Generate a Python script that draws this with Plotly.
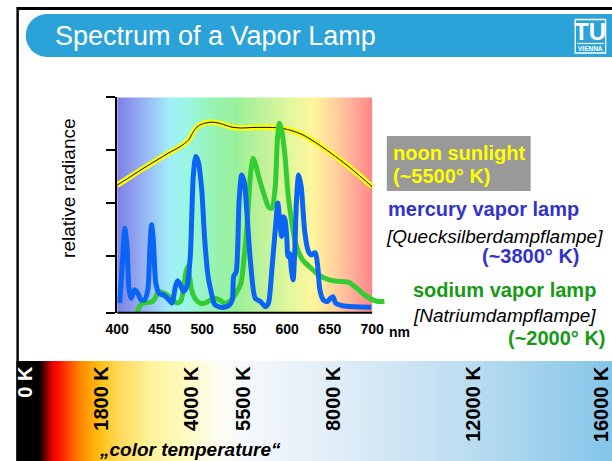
import numpy as np
import plotly.graph_objects as go

W, H = 612, 461
FONT = "Liberation Sans, Arial, sans-serif"

def fx(px):
    return px / W

def fy(py):
    return 1 - py / H

# ---------------- data ----------------
x_ticks = [400, 450, 500, 550, 600, 650, 700]
x_ticktext = ["400", "450", "500", "550", "600", "650", "700"]

sun_nm = [400, 414.7, 430, 445.5, 460.8, 474.3, 483.9, 489.7, 495.4, 503.1, 512.7, 522.3,
          533.8, 545.4, 560.8, 580, 591.5, 603.1, 618.5, 637.7, 657, 676.2, 700]
sun_val = [2.34, 2.49, 2.65, 2.80, 2.95, 3.07, 3.19, 3.35, 3.46, 3.51, 3.53, 3.50,
           3.44, 3.42, 3.43, 3.43, 3.42, 3.38, 3.29, 3.10, 2.88, 2.64, 2.31]

hg_nm = [403, 406, 409, 411.5, 414, 416.5, 420.5, 424.5, 428, 432, 436, 438.5, 440.5, 442.5,
         445.5, 449.5, 455, 461, 464.5, 468.5, 471, 474.5, 478, 482, 486, 489.5, 492.5, 495.5,
         499.5, 503, 507, 511, 514.5, 520, 526, 532, 535.5, 537, 540, 543.5, 546.5, 549.5,
         552.5, 557, 562.5, 568.5, 574.5, 578, 582, 586, 589, 591.5, 593.5, 595.5, 597.5,
         599.5, 601, 603, 605, 607, 609, 611, 613.5, 616.5, 620.5, 624.5, 628, 633, 636,
         638.5, 642.5, 647.5, 651, 654, 657, 665, 680, 699]
hg_val = [0.11, 0.86, 1.52, 1.18, 0.36, 0.20, 0.36, 0.29, 0.17, 0.17, 0.36, 1.18, 1.59, 1.30,
          0.48, 0.29, 0.26, 0.17, 0.11, 0.42, 0.53, 0.45, 0.33, 0.42, 0.99, 2.50, 2.88, 2.78,
          2.25, 1.30, 0.61, 0.29, 0.09, 0.04, 0.03, 0.07, 0.17, 0.61, 0.70, 2.06, 2.53, 2.40,
          1.85, 0.86, 0.20, 0.14, 0.04, 0.11, 0.74, 1.49, 2.00, 1.62, 1.37, 1.74, 1.68,
          1.37, 0.99, 1.05, 0.74, 0.55, 1.11, 2.06, 2.53, 2.31, 1.49, 1.11, 1.02, 1.06, 0.80,
          0.36, 0.17, 0.14, 0.20, 0.23, 0.11, 0.06, 0.04, 0.03]

na_nm = [424, 426, 430, 436, 441.5, 445.5, 448.5, 453, 459, 464.5, 470.5, 474.5, 478, 481,
         483, 487.5, 491.5, 497.5, 503, 509, 514.5, 520.5, 526, 532, 539.5, 545.5, 549.5,
         553, 557, 560, 562.5, 566.5, 572.5, 578, 582, 586, 588.5, 591, 593.5, 597.5, 601,
         605, 609, 612.5, 618.5, 626, 637.5, 649.5, 661, 672.5, 682, 691.5, 699.5, 707, 714.5]
na_val = [-0.07, 0.04, 0.11, 0.12, 0.14, 0.23, 0.33, 0.31, 0.26, 0.18, 0.11, 0.14, 0.36, 0.70,
          0.80, 0.36, 0.20, 0.11, 0.11, 0.16, 0.20, 0.17, 0.11, 0.14, 0.29, 0.48, 0.99,
          1.62, 2.56, 2.85, 2.75, 2.50, 2.18, 1.93, 1.90, 2.31, 3.19, 3.51, 3.38, 2.88, 2.18,
          1.68, 1.30, 1.11, 0.92, 0.80, 0.64, 0.55, 0.52, 0.50, 0.39, 0.26, 0.18, 0.14, 0.14]

# rainbow backdrop (wavelength -> pastel colour)
rainbow_nm = [400, 430, 460, 480, 510, 540, 570, 600, 630, 655, 680, 700]
rainbow_col = ["#7f80e6", "#97b2f4", "#a2ecfa", "#9af6e6", "#98f4b4", "#9af09a",
               "#bff29a", "#e0f79c", "#fff69c", "#ffd39c", "#ffa898", "#ff8686"]

# colour-temperature strip
temp_labels = ["0 K", "1800 K", "4000 K", "5500 K", "8000 K", "12000 K", "16000 K"]
temp_pos = [13, 90, 182, 235, 327, 470, 601]
strip_pos = [5, 27, 40, 47, 70, 88, 105, 140, 175, 212, 240, 330, 470, 612]
strip_col = ["#000000", "#000000", "#e60000", "#ff1500", "#ff8a00", "#ffbe10", "#ffd650",
             "#fff29a", "#fffbc0", "#fcfdf4", "#f5f8fc", "#e0edf7", "#badcf0", "#84c5e8"]

# ---------------- figure ----------------
fig = go.Figure()

lam = np.arange(400, 701, 1.0)
rb_scale = [[(n - 400) / 300, c] for n, c in zip(rainbow_nm, rainbow_col)]
fig.add_trace(go.Heatmap(x=lam, y=[-0.1, 4.05], z=[lam, lam], colorscale=rb_scale,
                         zmin=400, zmax=700, zsmooth="best", showscale=False,
                         hoverinfo="skip", xaxis="x", yaxis="y"))

fig.add_trace(go.Scatter(x=sun_nm, y=sun_val, mode="lines",
                         line=dict(color="#ffff00", width=5.5, shape="spline", smoothing=0.8),
                         hoverinfo="skip", xaxis="x", yaxis="y"))
fig.add_trace(go.Scatter(x=sun_nm, y=sun_val, mode="lines",
                         line=dict(color="#000000", width=1, shape="spline", smoothing=0.8),
                         hoverinfo="skip", xaxis="x", yaxis="y"))
fig.add_trace(go.Scatter(x=na_nm, y=na_val, mode="lines",
                         line=dict(color="#33cc33", width=5, shape="spline", smoothing=0.7),
                         hoverinfo="skip", xaxis="x", yaxis="y"))
fig.add_trace(go.Scatter(x=hg_nm, y=hg_val, mode="lines",
                         line=dict(color="#0a64f5", width=5, shape="spline", smoothing=0.7),
                         hoverinfo="skip", xaxis="x", yaxis="y"))

sp = np.arange(5, 613, 1.0)
st_scale = [[(p - 5) / (612 - 5), c] for p, c in zip(strip_pos, strip_col)]
fig.add_trace(go.Heatmap(x=sp, y=[0, 1], z=[sp, sp], colorscale=st_scale, zmin=5, zmax=612,
                         zsmooth="best", showscale=False, hoverinfo="skip",
                         xaxis="x2", yaxis="y2"))

y_bottom = -0.072
fig.update_layout(
    width=W, height=H, margin=dict(l=0, r=0, t=0, b=0),
    paper_bgcolor="white", plot_bgcolor="white", showlegend=False,
    font=dict(family=FONT, color="black"),
    xaxis=dict(domain=[fx(107.3), fx(381.2)], range=[400, 716], tickvals=x_ticks,
               ticktext=x_ticktext, showline=False, showgrid=False, zeroline=False,
               ticks="", ticklabelstandoff=6,
               tickfont=dict(family=FONT, size=14, color="black", weight="bold")),
    yaxis=dict(domain=[fy(312.7), fy(97.3)], range=[y_bottom, 4.0],
               tickvals=[y_bottom, 1, 2, 3, 4], showticklabels=False, ticks="outside",
               ticklen=9, tickwidth=1.5, tickcolor="black", showline=True, linewidth=2,
               linecolor="black", showgrid=False, zeroline=False),
    xaxis2=dict(domain=[0, 1], range=[0, 612], visible=False, anchor="y2"),
    yaxis2=dict(domain=[0, fy(361)], range=[0, 1], visible=False, anchor="x2"),
)

shapes = []
# slide frame
shapes.append(dict(type="rect", xref="paper", yref="paper", x0=fx(5), x1=fx(612),
                   y0=fy(10), y1=fy(7), fillcolor="black", line=dict(width=0)))
shapes.append(dict(type="rect", xref="paper", yref="paper", x0=fx(4.5), x1=fx(7),
                   y0=fy(461), y1=fy(7), fillcolor="black", line=dict(width=0)))
# title bar
TB = "#2ba3d8"
shapes.append(dict(type="circle", xref="paper", yref="paper", x0=fx(14), x1=fx(57),
                   y0=fy(57), y1=fy(14), fillcolor=TB, line=dict(width=0)))
shapes.append(dict(type="rect", xref="paper", yref="paper", x0=fx(35.5), x1=fx(612),
                   y0=fy(57), y1=fy(14), fillcolor=TB, line=dict(width=0)))
# TU logo frame
shapes.append(dict(type="rect", xref="paper", yref="paper", x0=fx(574.5), x1=fx(605.5),
                   y0=fy(53), y1=fy(19.5), line=dict(color="white", width=1.3)))
shapes.append(dict(type="line", xref="paper", yref="paper", x0=fx(576.5), x1=fx(603.5),
                   y0=fy(43.5), y1=fy(43.5), line=dict(color="white", width=1.2)))
# x axis baseline (only across 400..700)
shapes.append(dict(type="line", xref="x", yref="paper", x0=400, x1=700,
                   y0=fy(312.7), y1=fy(312.7), line=dict(color="black", width=2)))
# grey legend box
shapes.append(dict(type="rect", xref="paper", yref="paper", x0=fx(382.3), x1=fx(529),
                   y0=fy(191), y1=fy(136), fillcolor="#999999", line=dict(width=0)))
fig.update_layout(shapes=shapes)

ann = []
def A(text, px, py, size, color="black", xanchor="left", bold=False, italic=False, **kw):
    f = dict(family=FONT, size=size, color=color)
    if bold:
        f["weight"] = "bold"
    if italic:
        f["style"] = "italic"
    d = dict(text=text, xref="paper", yref="paper", x=fx(px), y=fy(py), xanchor=xanchor,
             yanchor="middle", showarrow=False, font=f)
    d.update(kw)
    ann.append(d)

A("Spectrum of a Vapor Lamp", 42, 36, 27, color="white")
A("TU", 590, 31.5, 24, color="white", xanchor="center", bold=True)
A("VIENNA", 590, 48.5, 6.5, color="white", xanchor="center", bold=True)
A("relative radiance", 57, 188, 19, xanchor="center", textangle=-90)
A("noon sunlight", 387, 152.6, 20, color="#ffff00", bold=True)
A("(~5500° K)", 387, 176.4, 20, color="#ffff00", bold=True)
A("mercury vapor lamp", 381, 209, 20, color="#3333cc", bold=True)
A("[Quecksilberdampflampe]", 379, 236.4, 19, italic=True)
A("(~3800° K)", 581, 256.4, 20, color="#3333cc", xanchor="right", bold=True)
A("sodium vapor lamp", 407, 289.8, 20, color="#169a16", bold=True)
A("[Natriumdampflampe]", 407, 315.8, 19, italic=True)
A("(~2000° K)", 608, 338, 20, color="#169a16", xanchor="right", bold=True)
A("„color temperature“", 87, 449.5, 19, bold=True, italic=True)

ann.append(dict(text="nm", xref="x", yref="paper", x=700, xshift=15, y=fy(332),
                xanchor="left", yanchor="middle", showarrow=False,
                font=dict(family=FONT, size=14, color="black", weight="bold")))

for lab, pos in zip(temp_labels, temp_pos):
    ann.append(dict(text=lab, xref="x2", yref="paper", x=pos, y=fy(364), xanchor="center",
                    yanchor="top", textangle=-90, showarrow=False,
                    font=dict(family=FONT, size=20, weight="bold",
                              color="white" if lab == "0 K" else "black")))

fig.update_layout(annotations=ann)
fig.write_html("out.html", config={"displayModeBar": False},
               post_script="document.body.style.margin='0';document.body.style.padding='0';"
                           "document.body.style.overflow='hidden';")
